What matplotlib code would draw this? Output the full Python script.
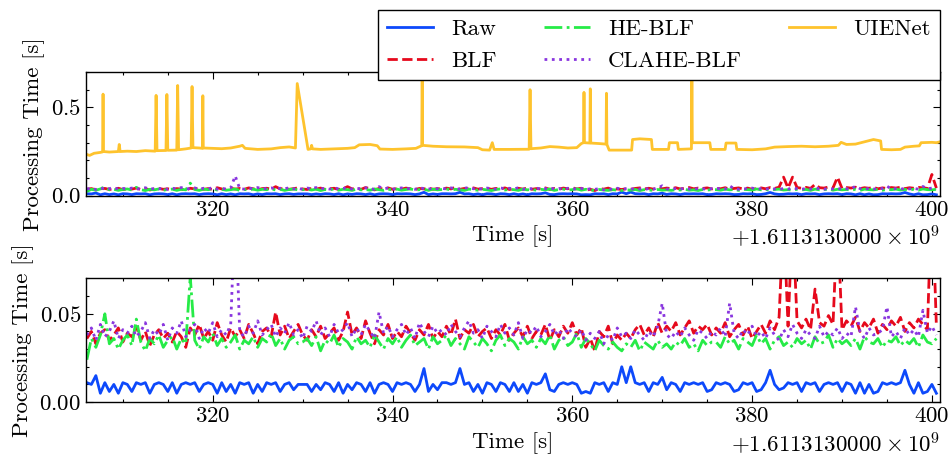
import numpy as np
import matplotlib
matplotlib.use("Agg")
import matplotlib.pyplot as plt
from matplotlib.ticker import MultipleLocator, AutoMinorLocator, ScalarFormatter

plt.rcParams['font.family'] = 'serif'
plt.rcParams['font.serif'] = ['cmr10']
plt.rcParams['mathtext.fontset'] = 'cm'
plt.rcParams['axes.formatter.use_mathtext'] = True

# epoch offset of the recording (s)
T0 = 1611313000

# processing times in ms, sampled every 0.5 s from 306.0 s to 400.5 s
t_start = 306.0
raw_ms = [
    11, 10, 15, 5, 11, 6, 10, 5, 11, 10,
    6, 11, 10, 11, 5, 10, 11, 10, 6, 11,
    5, 10, 11, 10, 11, 6, 10, 11, 10, 5,
    11, 6, 10, 5, 11, 10, 11, 5, 10, 6,
    11, 10, 11, 6, 10, 11, 7, 10, 10, 10,
    6, 10, 7, 11, 10, 6, 11, 5, 10, 7,
    11, 10, 6, 11, 5, 10, 11, 10, 6, 11,
    10, 11, 10, 6, 10, 19, 6, 10, 7, 11,
    11, 10, 11, 19, 10, 11, 6, 10, 5, 11,
    10, 6, 11, 10, 6, 11, 6, 10, 5, 11,
    10, 11, 16, 7, 6, 10, 11, 10, 11, 10,
    5, 6, 5, 11, 10, 11, 6, 11, 10, 20,
    11, 20, 11, 10, 11, 6, 11, 10, 14, 7,
    11, 10, 6, 11, 10, 11, 10, 11, 6, 7,
    11, 10, 11, 10, 6, 7, 11, 10, 11, 6,
    7, 11, 18, 10, 7, 8, 11, 10, 11, 6,
    11, 10, 11, 6, 10, 11, 10, 11, 6, 11,
    10, 5, 11, 5, 10, 5, 6, 11, 10, 11,
    10, 11, 18, 10, 5, 11, 5, 6, 10, 5,
]
blf_ms = [
    36, 40, 33, 39, 41, 35, 38, 42, 34, 39,
    37, 43, 35, 40, 32, 38, 41, 36, 39, 34,
    40, 37, 31, 42, 38, 44, 36, 40, 35, 45,
    38, 34, 42, 37, 41, 36, 44, 39, 33, 40,
    42, 37, 51, 38, 43, 36, 40, 44, 38, 35,
    41, 37, 43, 36, 39, 42, 35, 40, 51, 38,
    42, 36, 46, 39, 33, 41, 38, 44, 36, 40,
    37, 43, 39, 35, 41, 38, 44, 36, 40, 37,
    43, 38, 47, 36, 41, 39, 44, 37, 40, 42,
    36, 41, 38, 44, 35, 39, 42, 37, 43, 36,
    40, 38, 44, 35, 41, 37, 43, 39, 45, 38,
    42, 31, 36, 29, 40, 37, 43, 33, 38, 35,
    39, 36, 41, 44, 38, 42, 37, 45, 39, 43,
    40, 45, 38, 42, 46, 39, 43, 41, 44, 38,
    42, 39, 45, 37, 41, 44, 38, 43, 36, 40,
    44, 39, 46, 41, 48, 105, 43, 105, 46, 42,
    47, 41, 64, 45, 43, 49, 44, 105, 41, 46,
    43, 48, 40, 45, 42, 47, 39, 44, 41, 46,
    43, 48, 40, 45, 42, 47, 44, 41, 120, 43,
]
he_blf_ms = [
    24, 36, 31, 38, 50, 33, 36, 30, 35, 38,
    32, 47, 34, 29, 36, 33, 38, 31, 35, 37,
    30, 36, 33, 71, 35, 30, 37, 34, 39, 32,
    36, 31, 34, 38, 30, 35, 33, 37, 31, 36,
    34, 39, 32, 36, 30, 35, 37, 33, 34, 36,
    32, 37, 29, 35, 33, 38, 31, 36, 34, 30,
    37, 33, 35, 31, 38, 34, 30, 36, 33, 37,
    31, 35, 38, 32, 34, 36, 30, 37, 33, 35,
    38, 32, 36, 33, 30, 37, 34, 31, 36, 33,
    29, 35, 38, 32, 36, 34, 30, 37, 33, 35,
    31, 36, 33, 38, 30, 35, 37, 32, 34, 39,
    31, 36, 33, 29, 35, 32, 30, 34, 31, 29,
    33, 31, 35, 29, 34, 32, 30, 35, 31, 33,
    30, 34, 32, 36, 31, 33, 29, 35, 32, 34,
    34, 31, 37, 33, 35, 30, 36, 34, 32, 38,
    33, 36, 30, 35, 37, 32, 34, 31, 36, 33,
    35, 30, 37, 33, 34, 38, 31, 36, 33, 35,
    32, 36, 30, 37, 34, 33, 36, 31, 35, 34,
    37, 32, 35, 33, 36, 31, 38, 34, 33, 36,
]
clahe_blf_ms = [
    38, 42, 35, 44, 37, 40, 46, 36, 41, 39,
    43, 37, 40, 45, 36, 41, 38, 44, 35, 42,
    39, 46, 37, 41, 44, 36, 42, 39, 45, 37,
    41, 38, 44, 112, 40, 37, 43, 39, 46, 38,
    41, 44, 37, 42, 39, 45, 38, 41, 36, 43,
    40, 46, 38, 42, 37, 44, 39, 41, 45, 37,
    42, 38, 44, 40, 36, 51, 39, 43, 37, 41,
    44, 38, 42, 36, 45, 40, 37, 43, 39, 41,
    38, 44, 40, 37, 42, 46, 39, 41, 36, 43,
    40, 37, 44, 39, 42, 38, 45, 36, 41, 39,
    43, 37, 40, 44, 38, 41, 36, 42, 39, 37,
    41, 35, 39, 36, 40, 33, 38, 35, 42, 37,
    39, 36, 41, 38, 35, 40, 37, 43, 56, 38,
    36, 40, 37, 42, 38, 35, 41, 39, 36, 40,
    38, 42, 37, 56, 39, 36, 41, 38, 43, 37,
    40, 36, 42, 38, 35, 41, 37, 44, 39, 36,
    41, 38, 36, 43, 37, 40, 38, 42, 36, 39,
    37, 54, 40, 36, 42, 38, 39, 41, 54, 37,
    40, 36, 42, 38, 41, 37, 52, 39, 43, 38,
]

# UIENet, logged at its own (irregular) timestamps, in s
uienet_t = [
    305.9, 306.3, 306.8, 307.5, 307.75, 307.8, 307.85, 308.5, 309.5, 309.6,
    309.7, 310.5, 311.5, 312.5, 313.6, 313.7, 313.8, 314.8, 314.9, 315.0,
    316.0, 316.1, 316.2, 317.0, 317.6, 317.7, 317.8, 318.5, 318.85, 318.9,
    318.95, 320.0, 321.0, 322.0, 323.0, 323.3, 323.6, 325.0, 326.5, 327.5,
    328.5, 329.2, 329.4, 330.6, 330.9, 331.0, 331.1, 332.0, 333.5, 335.0,
    335.8, 336.3, 337.5, 338.3, 338.6, 340.0, 341.5, 342.6, 343.1, 343.25,
    343.3, 343.35, 344.5, 346.0, 348.0, 349.5, 350.0, 350.8, 351.1, 351.3,
    353.0, 355.2, 355.3, 355.4, 356.5, 357.5, 358.5, 359.5, 360.5, 361.0,
    361.25, 361.3, 361.35, 361.95, 362.0, 362.05, 363.0, 363.75, 363.8, 363.85,
    364.1, 366.6, 366.7, 367.5, 368.8, 368.9, 370.7, 370.8, 371.7, 371.8,
    373.25, 373.3, 373.35, 375.3, 375.4, 377.0, 377.1, 378.2, 378.3, 380.0,
    381.5, 382.5, 384.0, 385.5, 387.0, 388.5, 389.6, 389.9, 390.5, 391.5,
    392.5, 393.5, 394.3, 394.4, 395.5, 396.5, 397.0, 398.0, 398.6, 398.8,
    400.0, 400.5, 400.9,
]
uienet_s = [
    0.235, 0.228, 0.240, 0.245, 0.248, 0.575, 0.250, 0.247, 0.250, 0.290,
    0.250, 0.252, 0.250, 0.255, 0.252, 0.568, 0.255, 0.256, 0.573, 0.257,
    0.258, 0.624, 0.260, 0.265, 0.270, 0.618, 0.272, 0.270, 0.268, 0.566,
    0.270, 0.268, 0.266, 0.270, 0.280, 0.285, 0.268, 0.262, 0.265, 0.272,
    0.276, 0.270, 0.635, 0.262, 0.265, 0.285, 0.265, 0.262, 0.265, 0.268,
    0.272, 0.288, 0.290, 0.283, 0.264, 0.262, 0.265, 0.268, 0.280, 0.283,
    0.750, 0.285, 0.280, 0.277, 0.276, 0.272, 0.260, 0.258, 0.300, 0.262,
    0.262, 0.263, 0.600, 0.266, 0.270, 0.278, 0.275, 0.270, 0.272, 0.295,
    0.300, 0.585, 0.300, 0.298, 0.605, 0.298, 0.295, 0.292, 0.580, 0.290,
    0.258, 0.258, 0.318, 0.322, 0.318, 0.262, 0.262, 0.300, 0.300, 0.262,
    0.265, 0.750, 0.300, 0.300, 0.262, 0.262, 0.298, 0.298, 0.262, 0.260,
    0.265, 0.275, 0.278, 0.280, 0.277, 0.280, 0.285, 0.302, 0.290, 0.292,
    0.305, 0.318, 0.310, 0.262, 0.260, 0.262, 0.275, 0.280, 0.282, 0.300,
    0.302, 0.300, 0.305,
]

t = T0 + t_start + 0.5 * np.arange(len(raw_ms))
t_uie = T0 + np.array(uienet_t)

series = [
    ("Raw", raw_ms, "#0d49fb", "-"),
    ("BLF", blf_ms, "#e6091c", "--"),
    ("HE-BLF", he_blf_ms, "#26eb47", "-."),
    ("CLAHE-BLF", clahe_blf_ms, "#8936df", ":"),
]


class LongOffsetFormatter(ScalarFormatter):
    # show the offset with all ten decimals, e.g. +1.6113130000 x 10^9
    def get_offset(self):
        if not self.offset:
            return ""
        mant, ex = ("%1.10e" % self.offset).split("e")
        return r"$+\mathdefault{%s\times10^{%d}}$" % (mant, int(ex))


FS = 16.5
fig, axes = plt.subplots(2, 1, figsize=(9.49, 4.59), dpi=100)
fig.subplots_adjust(left=0.0906, right=0.9905, top=0.843, bottom=0.124, hspace=0.67)

for ax, ytop, ystep in zip(axes, [0.7, 0.07], [0.5, 0.05]):
    for name, vals, col, ls in series:
        ax.plot(t, np.array(vals) / 1000.0, color=col, ls=ls, lw=2.0, label=name)
    ax.plot(t_uie, uienet_s, color="#fec32d", ls="-", lw=2.0, label="UIENet")
    ax.set_xlim(t_uie[0], t_uie[-1])
    ax.set_ylim(0, ytop)
    ax.xaxis.set_major_formatter(LongOffsetFormatter())
    ax.xaxis.set_major_locator(MultipleLocator(20))
    ax.xaxis.set_minor_locator(AutoMinorLocator())
    ax.yaxis.set_major_locator(MultipleLocator(ystep))
    ax.yaxis.set_minor_locator(AutoMinorLocator())
    ax.tick_params(which="both", direction="in", top=True, right=True,
                   labelsize=FS, width=0.8)
    ax.tick_params(which="major", length=5)
    ax.tick_params(which="minor", length=2.5)
    for sp in ax.spines.values():
        sp.set_linewidth(1.0)
    ax.set_xlabel("Time [s]", fontsize=FS, labelpad=4)
    ax.set_ylabel("Processing Time [s]", fontsize=FS)
    ax.xaxis.get_offset_text().set_fontsize(FS)

handles, labels = axes[0].get_legend_handles_labels()
leg = fig.legend(handles, labels, loc="upper right", bbox_to_anchor=(0.9905, 0.978),
                 ncol=3, fontsize=FS, frameon=True, fancybox=False,
                 edgecolor="black", framealpha=1.0, handlelength=2.0,
                 columnspacing=2.05, borderaxespad=0.0)
leg.get_frame().set_linewidth(1.0)

fig.savefig("out.png", dpi=100)
